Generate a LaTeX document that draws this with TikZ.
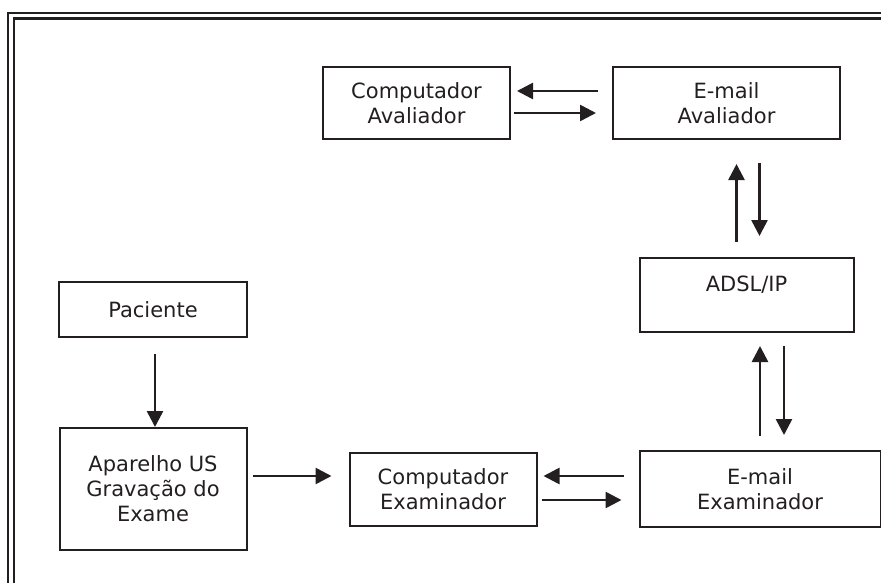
\documentclass[tikz,border=0pt]{standalone}
\usepackage{fontspec}
\setmainfont{DejaVu Sans}
\usepackage{xcolor}
\usetikzlibrary{arrows.meta,positioning,calc}
\definecolor{inkgray}{HTML}{231F20}

\begin{document}
\begin{tikzpicture}[x=1pt,y=-1pt,
  box/.style={rectangle,draw=inkgray,line width=2pt,minimum width=187pt,minimum height=72pt,inner sep=0pt,align=center,text=inkgray,font=\fontsize{21}{25}\selectfont},
  arr/.style={-{Triangle[length=16pt,width=16pt]},line width=2.6pt,draw=inkgray},
  rim/.style={draw=inkgray,line width=2pt}
]
\useasboundingbox (0,0) rectangle (881,583);
\clip (0,0) rectangle (881,583);
% double frame, open to the right and below
\draw[rim] (8,600) -- (8,13) -- (900,13);
\draw[rim,line width=2.5pt] (14,600) -- (14,18.5) -- (900,18.5);

\node[box] (compav) at (416.5,103) {Computador\\Avaliador};
\node[box,minimum width=227pt,right=101pt of compav] (mailav) {E-mail\\Avaliador};
\node[box] (paciente) at (153,309.5) [minimum width=188pt,minimum height=55pt] {Paciente};
\node[box,minimum height=122pt,below=89pt of paciente] (aparelho) {Aparelho US\\Gravação do\\Exame};
\node[box,minimum height=73pt,right=101pt of aparelho] (compex) {Computador\\Examinador};
\node[box,minimum width=241pt,minimum height=76pt,right=101pt of compex] (mailex) {E-mail\\Examinador};
\node[box,minimum width=214pt,text height=33pt,text depth=41pt,anchor=south west] (adsl) at ([yshift=117pt]mailex.north west) {ADSL/IP};

\draw[arr,shorten <=16pt] ([xshift=2pt]paciente.south) -- ([xshift=2pt]aparelho.north);
\draw[arr,shorten <=5pt,shorten >=17pt] ([yshift=13pt]aparelho.east) -- ([yshift=13pt]compex.west);
\draw[arr,shorten <=15pt,shorten >=6pt] ([yshift=13pt]mailex.west) -- ([yshift=13pt]compex.east);
\draw[arr,shorten <=4pt,shorten >=17pt] ([yshift=-11pt]compex.east) -- ([yshift=-11pt]mailex.west);
\draw[arr,shorten <=14pt,shorten >=6pt] ([yshift=12pt]mailav.west) -- ([yshift=12pt]compav.east);
\draw[arr,shorten <=3pt,shorten >=16pt] ([yshift=-10pt]compav.east) -- ([yshift=-10pt]mailav.west);
\draw[arr,shorten <=15pt,shorten >=24pt] ([xshift=-10pt]adsl.north) -- ([xshift=-10pt]adsl.north |- mailav.south);
\draw[arr,shorten <=23pt,shorten >=21pt] ([xshift=13pt]adsl.north |- mailav.south) -- ([xshift=13pt]adsl.north);
\draw[arr,shorten <=14pt,shorten >=13pt] (mailex.north) -- (mailex.north |- adsl.south);
\draw[arr,shorten <=13pt,shorten >=15pt] ([xshift=24pt]mailex.north |- adsl.south) -- ([xshift=24pt]mailex.north);
\end{tikzpicture}
\end{document}
